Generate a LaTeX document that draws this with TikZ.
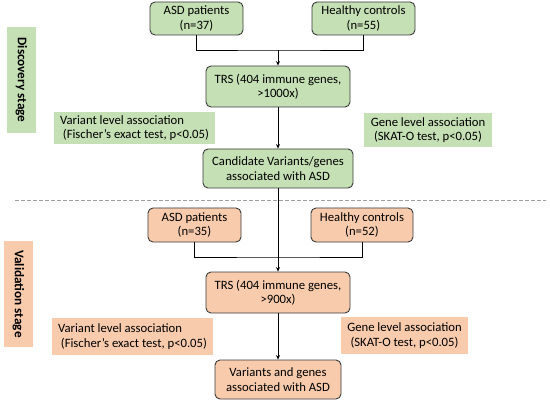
\documentclass[tikz,border=0pt]{standalone}
\usepackage{fontspec}
\setmainfont{Carlito}
\usepackage{tikz}
\usetikzlibrary{arrows.meta,positioning}
\definecolor{grfill}{HTML}{C5E0B4}
\definecolor{orfill}{HTML}{F8CBAD}
\definecolor{boxline}{HTML}{3A3A3A}

\begin{document}
\begin{tikzpicture}[x=1pt,y=-1pt,>={Stealth[length=4.5pt,width=4pt]},
  font=\fontsize{12.7}{14.5}\selectfont,
  stagebox/.style={draw=boxline,line width=0.9pt,rounded corners=5pt,align=center,inner sep=1pt},
  notebox/.style={align=center,inner sep=1pt},
  stagelabel/.style={rotate=-90,font=\fontsize{13.2}{14}\selectfont\bfseries,inner sep=1pt,minimum width=106pt,minimum height=29pt},
  link/.style={line width=0.9pt,black}]
  \useasboundingbox (0,0) rectangle (550,404);
  \node[stagebox,fill=grfill,minimum width=93pt,minimum height=33pt] (dasd) at (196.5,18.5) {ASD patients\\(n=37)};
  \node[stagebox,fill=grfill,minimum width=103pt,minimum height=33pt] (dhc) at (363.5,18.5) {Healthy controls\\(n=55)};
  \node[stagebox,fill=grfill,minimum width=144pt,minimum height=41pt] (dtrs) at (278,86.5) {TRS (404 immune genes,\\>1000x)};
  \node[notebox,align=left,fill=grfill,minimum width=161pt,minimum height=32pt] (dvar) at (134.5,128) {Variant level association\\\ (Fischer’s exact test, p<0.05)};
  \node[notebox,fill=grfill,minimum width=128pt,minimum height=34pt] (dgene) at (428,130) {Gene level association\\(SKAT-O test, p<0.05)};
  \node[stagebox,fill=grfill,minimum width=150pt,minimum height=39pt] (dcand) at (278,168.5) {Candidate Variants/genes\\associated with ASD};
  \node[stagelabel,fill=grfill] (dlabel) at (21.5,80) {Discovery stage};
  \coordinate (djoin) at (278,50);
  \draw[link] (dasd.south) |- (djoin) -| (dhc.south);
  \draw[link,->] (djoin) -- (dtrs.north);
  \draw[link,->] (dtrs) -- (dcand);
  \coordinate (cutl) at (15,200);
  \coordinate (cutr) at (546,200);
  \draw[gray!75,dash pattern=on 4pt off 2pt,line width=0.7pt] (cutl) -- (cutr);
  \node[stagebox,fill=orfill,minimum width=93pt,minimum height=34pt] (vasd) at (194.5,225) {ASD patients\\(n=35)};
  \node[stagebox,fill=orfill,minimum width=102pt,minimum height=34pt] (vhc) at (362,225) {Healthy controls\\(n=52)};
  \node[stagebox,fill=orfill,minimum width=144pt,minimum height=41pt] (vtrs) at (278,292.5) {TRS (404 immune genes,\\>900x)};
  \node[notebox,align=left,fill=orfill,minimum width=161pt,minimum height=37pt] (vvar) at (132.5,336.5) {Variant level association\\\ (Fischer’s exact test, p<0.05)};
  \node[notebox,fill=orfill,minimum width=127pt,minimum height=37pt] (vgene) at (404.5,335.5) {Gene level association\\(SKAT-O test, p<0.05)};
  \node[stagebox,fill=orfill,minimum width=126pt,minimum height=39pt] (vfin) at (278,379.5) {Variants and genes\\associated with ASD};
  \node[stagelabel,fill=orfill] (vlabel) at (18.5,294) {Validation stage};
  \coordinate (vjoin) at (278,257);
  \draw[link] (vasd.south) |- (vjoin) -| (vhc.south);
  \draw[link,->] (dcand) -- (vtrs);
  \draw[link,->] (vtrs) -- (vfin);
\end{tikzpicture}
\end{document}
